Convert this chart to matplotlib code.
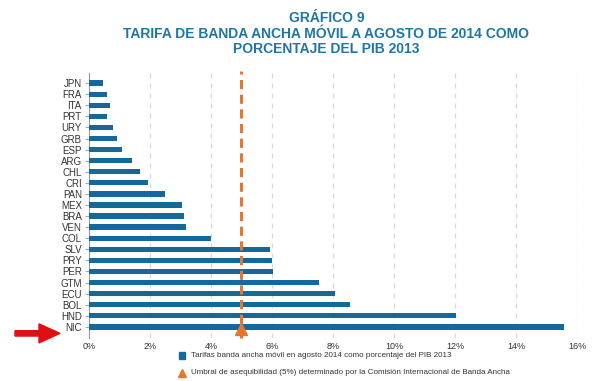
import numpy as np
import matplotlib.pyplot as plt

# data
countries = ['JPN', 'FRA', 'ITA', 'PRT', 'URY', 'GRB', 'ESP', 'ARG', 'CHL', 'CRI', 'PAN', 'MEX',
             'BRA', 'VEN', 'COL', 'SLV', 'PRY', 'PER', 'GTM', 'ECU', 'BOL', 'HND', 'NIC']
tarifa = [0.47, 0.58, 0.70, 0.61, 0.78, 0.93, 1.10, 1.40, 1.69, 1.95, 2.51, 3.05,
          3.13, 3.17, 4.01, 5.93, 6.00, 6.05, 7.54, 8.05, 8.55, 12.04, 15.56]
umbral = 5
xticks = [0, 2, 4, 6, 8, 10, 12, 14, 16]

blue = '#15699a'
orange = '#e8772e'
title_blue = '#1f76a6'

plt.rcParams['font.family'] = ['Liberation Sans', 'DejaVu Sans']

fig = plt.figure(figsize=(6, 3.81), dpi=100)
ax = fig.add_axes([0.148, 0.113, 0.814, 0.695])

y = np.arange(len(countries))
ax.barh(y, tarifa, height=0.48, color=blue, zorder=3)
ax.set_ylim(len(countries) - 1 + 1.0, -0.9)
ax.set_xlim(0, 16)

ax.set_yticks(y)
ax.set_yticklabels(countries, fontsize=7, color='#333333')
ax.set_xticks(xticks)
ax.set_xticklabels(['%d%%' % t for t in xticks], fontsize=6.5, color='#333333')

for t in xticks[1:]:
    ax.axvline(t, color='#d9d9d9', lw=0.9, ls=(0, (4, 4)), zorder=1)

ax.axvline(umbral, ymin=0, ymax=1.01, color=orange, lw=2.2, ls=(0, (3, 1.8)), zorder=4, clip_on=False)
ax.plot([umbral], [len(countries) - 1 + 0.2], marker='^', color=orange, ms=8, zorder=5, clip_on=False)

for s in ['top', 'right', 'bottom']:
    ax.spines[s].set_visible(False)
ax.spines['left'].set_color('#999999')
ax.spines['left'].set_linewidth(0.8)
ax.tick_params(axis='y', length=3, width=0.6, color='#999999', pad=2)
ax.tick_params(axis='x', length=0, pad=3)

fig.text(0.544, 0.952, 'GRÁFICO 9', ha='center', va='center', fontsize=10,
         fontweight='bold', color=title_blue)
fig.text(0.544, 0.911, 'TARIFA DE BANDA ANCHA MÓVIL A AGOSTO DE 2014 COMO', ha='center',
         va='center', fontsize=10, fontweight='bold', color=title_blue)
fig.text(0.544, 0.871, 'PORCENTAJE DEL PIB 2013', ha='center', va='center', fontsize=10,
         fontweight='bold', color=title_blue)

# red arrow pointing at NIC
fig.patches.append(plt.matplotlib.patches.FancyArrow(
    0.025, 0.125, 0.075, 0.0, width=0.014, head_width=0.05, head_length=0.035,
    length_includes_head=True, color='#e01010', transform=fig.transFigure, figure=fig))

# legend
fig.patches.append(plt.matplotlib.patches.Rectangle(
    (0.298, 0.058), 0.011, 0.017, color=blue, transform=fig.transFigure, figure=fig))
fig.text(0.318, 0.066, 'Tarifas banda ancha móvil en agosto 2014 como porcentaje del PIB 2013',
         fontsize=5.8, va='center', color='#333333')
fig.lines.append(plt.Line2D([0.3035], [0.022], marker='^', color=orange, ms=6,
                            transform=fig.transFigure, figure=fig))
fig.text(0.318, 0.022, 'Umbral de asequibilidad (5%) determinado por la Comisión Internacional de Banda Ancha',
         fontsize=5.8, va='center', color='#333333')

fig.savefig('out.png', dpi=100, facecolor='white')
